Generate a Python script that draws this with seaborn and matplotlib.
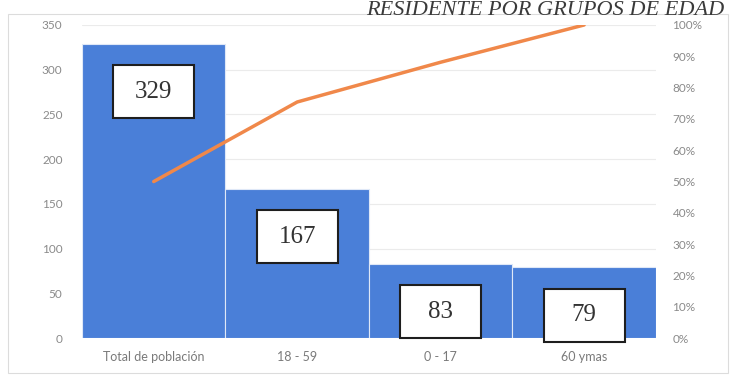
import numpy as np
import pandas as pd
import seaborn as sns
import matplotlib.pyplot as plt
import matplotlib.transforms as mtransforms
from matplotlib.patches import Rectangle

# datos
grupos = ['Total de población', '18 - 59', '0 - 17', '60 ymas']
poblacion = [329, 167, 83, 79]
acumulado = [50.0, 75.4, 88.1, 100.0]
ticks_izq = [0, 50, 100, 150, 200, 250, 300, 350]
ticks_der = [0, 10, 20, 30, 40, 50, 60, 70, 80, 90, 100]
titulo = 'RESIDENTE POR GRUPOS DE EDAD'

sns.set_style('white')
plt.rcParams['font.family'] = ['Lato', 'DejaVu Sans']

fig = plt.figure(figsize=(7.32, 3.90), dpi=100)
ax = fig.add_axes([0.112, 0.133, 0.784, 0.803])

#%% barras
df = pd.DataFrame({'grupo': grupos, 'poblacion': poblacion})
sns.barplot(data=df, x='grupo', y='poblacion', color='#4a7fd8', saturation=1,
            width=1, edgecolor='#dfe8f7', linewidth=0.8, ax=ax, zorder=2)
ax.set_xlim(-0.5, len(grupos) - 0.5)
ax.set_ylim(0, 350)
ax.set_yticks(ticks_izq)
ax.yaxis.grid(True, color='#ebebeb', linewidth=0.8, zorder=0)
ax.set_axisbelow(True)
ax.set_xlabel('')
ax.set_ylabel('')
ax.tick_params(axis='y', length=0, pad=14, labelsize=8.5, labelcolor='#8a8a8a')
ax.tick_params(axis='x', length=0, pad=9, labelsize=9, labelcolor='#7a7a7a')
sns.despine(ax=ax, left=True, bottom=True)

#%% linea acumulada
ax2 = ax.twinx()
sns.lineplot(x=np.arange(len(grupos)), y=acumulado, ax=ax2, color='#f0884a',
             linewidth=2.5, zorder=3)
ax2.set_ylim(0, 100)
ax2.set_yticks(ticks_der)
ax2.set_yticklabels([f'{t}%' for t in ticks_der])
ax2.tick_params(axis='y', length=0, pad=12, labelsize=8.5, labelcolor='#8a8a8a')
ax2.set_ylabel('')
sns.despine(ax=ax2, left=True, bottom=True, right=True)

#%% etiquetas en cajas
for i, v in enumerate(poblacion):
    trans = fig.dpi_scale_trans + mtransforms.ScaledTranslation(i, v, ax.transData)
    box = Rectangle((-0.405, -0.745), 0.81, 0.53, transform=trans, facecolor='white',
                    edgecolor='#1e1e1e', linewidth=1.5, zorder=5, clip_on=False)
    ax2.add_patch(box)
    ax2.text(0, -0.48, str(v), transform=trans, ha='center', va='center', fontsize=18,
             family='Liberation Serif', color='#333333', zorder=6)

#%% titulo y borde
fig.text(0.99, 0.997, titulo, ha='right', va='top', fontsize=16,
         style='italic', family='Liberation Serif', color='#3a3a3a')
fig.patches.append(Rectangle((0.011, 0.044), 0.984, 0.92, transform=fig.transFigure,
                             fill=False, edgecolor='#dcdcdc', linewidth=0.8))

fig.savefig('out.png', dpi=100)
